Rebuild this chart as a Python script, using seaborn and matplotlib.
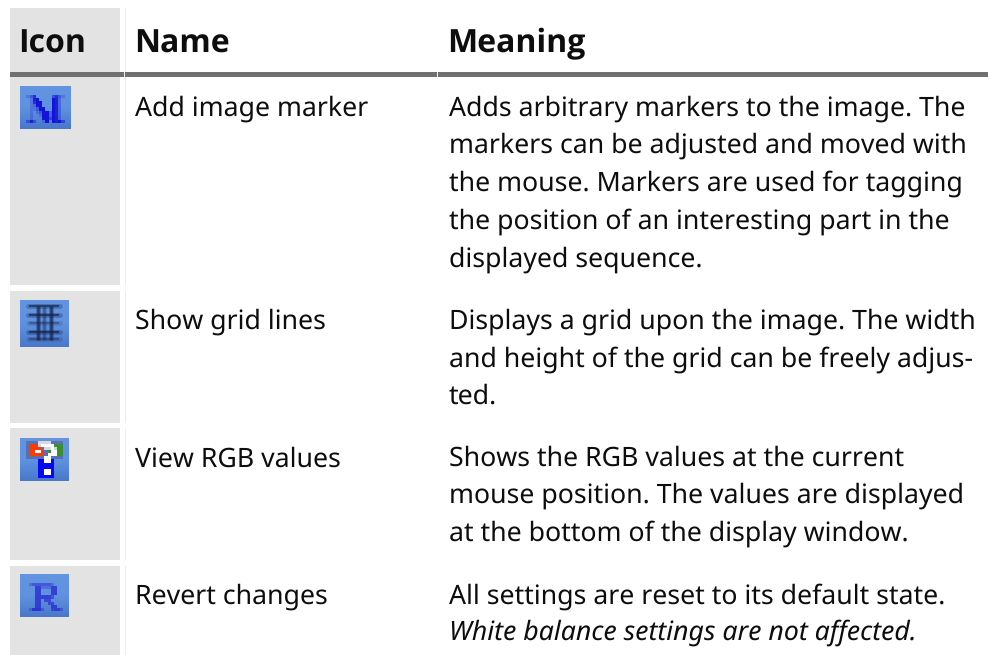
import numpy as np
import matplotlib
matplotlib.use("Agg")
import matplotlib.pyplot as plt
import seaborn as sns
from matplotlib.colors import LinearSegmentedColormap, to_rgba
from matplotlib.patches import Rectangle

sns.set_theme(style="white")
plt.rcParams['font.family'] = ['Noto Sans', 'DejaVu Sans']
plt.rcParams['text.hinting'] = 'none'
plt.rcParams['text.hinting_factor'] = 1

headers = ["Icon", "Name", "Meaning"]
header_x = [18.5, 134, 447.5]
names = ["Add image marker", "Show grid lines", "View RGB values", "Revert changes"]
meanings = [
    ["Adds arbitrary markers to the image. The", "markers can be adjusted and moved with",
     "the mouse. Markers are used for tagging", "the position of an interesting part in the",
     "displayed sequence."],
    ["Displays a grid upon the image. The width", "and height of the grid can be freely adjus-", "ted."],
    ["Shows the RGB values at the current", "mouse position. The values are displayed",
     "at the bottom of the display window."],
    ["All settings are reset to its default state.", "White balance settings are not affected."],
]
italic_lines = ["White balance settings are not affected."]
row_tops = [77, 291, 428, 566]
row_bottoms = [285, 423, 560, 655]
name_baselines = [115.5, 328.5, 466.5, 603.5]
line_baselines = [[115.5, 152.8, 190.5, 228.5, 266.5], [328.5, 366.5, 403.5], [465.3, 502.3, 540.3], [603.5, 639.3]]
icon_boxes = [(20, 71, 86, 129), (20, 69, 300, 347), (20, 69, 438, 481), (20, 69, 574, 617)]

m_icon = ["0000000000000000", "0000000000000000", "0000000000000000",
          "0024700000574200", "0002890000983000", "0002799000983000",
          "0002399000983000", "0002249900983000", "0002024993983000",
          "0002002993983000", "0002000995983000", "0048400290989500",
          "0000000000000000", "0000000000000000"]
r_icon = ["0000000000000000", "0000000000000000", "0000000000000000",
          "0003555555300000", "0000077333770000", "0000077000770000",
          "0000077000770000", "0000077777500000", "0000077066000000",
          "0000077006600000", "0000077000770000", "0003888400677400",
          "0000000000000000", "0000000000000000"]
rgb_icon = ["................", "..ddddxxxxdddd..", "..drrrxwwwwggg..",
            "..drrrrdxxwlgg..", "..drrwwrdgwwgg..", "..drrrrrdwwwgg..",
            "..ddddddwwdddd..", "......bbwwb.....", "......bbbbb.....",
            "......bbbbb.....", "......bbwwb.....", "......bbwwb.....",
            "......bbbbb.....", "................"]
rgb_colors = {".": (0, 0, 0, 0), "d": (0.3, 0.3, 0.45, 0.45), "x": (0.85, 0.85, 0.88, 1),
              "r": to_rgba("#fa3a08"), "g": to_rgba("#3a8f34"), "w": (1, 1, 1, 1),
              "l": to_rgba("#c8e0c8"), "b": to_rgba("#0808f0")}
grid_h = [6, 15, 23, 32, 39]
grid_h_alpha = [0.8, 0.85, 0.45, 0.9, 0.5]
grid_v = [18, 24, 31]
grid_v_alpha = [0.85, 0.45, 0.85]

GRAY = "#e3e3e3"
RULE = "#707070"
INK = "#0d0d0d"
FS = 26.68 * 0.72
FS_H = 32.4 * 0.72

fig = plt.figure(figsize=(9.92, 6.55), dpi=100, facecolor="white")
ax = fig.add_axes([0, 0, 1, 1])
ax.axis("off")

ax.add_patch(Rectangle((10, 8), 110, 64, fc=GRAY, ec="none"))
for t, b in zip(row_tops, row_bottoms):
    ax.add_patch(Rectangle((10, t), 110, b - t, fc=GRAY, ec="none"))
    ax.add_patch(Rectangle((125, t), 1, b - t, fc="#ececec", ec="none"))
ax.add_patch(Rectangle((125, 8), 1, 64, fc="#ececec", ec="none"))

for x0, x1 in [(10, 124), (125, 437), (438, 988)]:
    ax.add_patch(Rectangle((x0, 72), x1 - x0, 5, fc=RULE, ec="none"))

for x, h in zip(header_x, headers):
    ax.text(x, 52.5, h, fontsize=FS_H, family=["Open Sans", "DejaVu Sans"], fontweight="bold",
            color=INK, va="baseline")

for name, lines, nb, bases in zip(names, meanings, name_baselines, line_baselines):
    ax.text(135, nb, name, fontsize=FS, color=INK, va="baseline")
    for line, base in zip(lines, bases):
        ax.text(449, base, line, fontsize=FS, color=INK, va="baseline",
                style="italic" if line in italic_lines else "normal")

cmap = LinearSegmentedColormap.from_list("icon", ["#6294e0", "#5f92e0", "#4a78cc"])
grad = np.linspace(0, 1, 32).reshape(-1, 1)
for x0, x1, y0, y1 in icon_boxes:
    ax.imshow(grad, cmap=cmap, extent=(x0, x1, y1, y0), aspect="auto", zorder=2)


def glyph(rows, color):
    rgba = np.zeros((len(rows), len(rows[0]), 4))
    rgba[..., :3] = to_rgba(color)[:3]
    rgba[..., 3] = [[int(c) / 9 for c in r] for r in rows]
    return rgba


def place(arr, box):
    ax.imshow(arr, extent=(box[0], box[1], box[3], box[2]), aspect="auto",
              interpolation="nearest", zorder=3)


place(glyph(m_icon, "#1414d8"), icon_boxes[0])
place(glyph(r_icon, "#2a2ad0"), icon_boxes[3])
place(np.array([[rgb_colors[c] for c in r] for r in rgb_icon]), icon_boxes[2])

b = icon_boxes[1]
for yy, al in zip(grid_h, grid_h_alpha):
    ax.plot([b[0] + 8, b[0] + 40], [b[2] + yy] * 2, color="#14244c", lw=3.4, alpha=al * 0.35,
            zorder=3, solid_capstyle="round")
    ax.plot([b[0] + 9, b[0] + 39], [b[2] + yy] * 2, color="#14244c", lw=1.6, alpha=al * 0.8,
            zorder=3, solid_capstyle="butt")
for xx, al in zip(grid_v, grid_v_alpha):
    ax.plot([b[0] + xx] * 2, [b[2] + 6, b[2] + 40], color="#14244c", lw=3.6, alpha=al * 0.35,
            zorder=3, solid_capstyle="butt")
    ax.plot([b[0] + xx] * 2, [b[2] + 6, b[2] + 40], color="#14244c", lw=1.8, alpha=al * 0.8,
            zorder=3, solid_capstyle="butt")

ax.set_xlim(0, 992)
ax.set_ylim(655, 0)
fig.savefig("out.png", dpi=100, facecolor="white")
